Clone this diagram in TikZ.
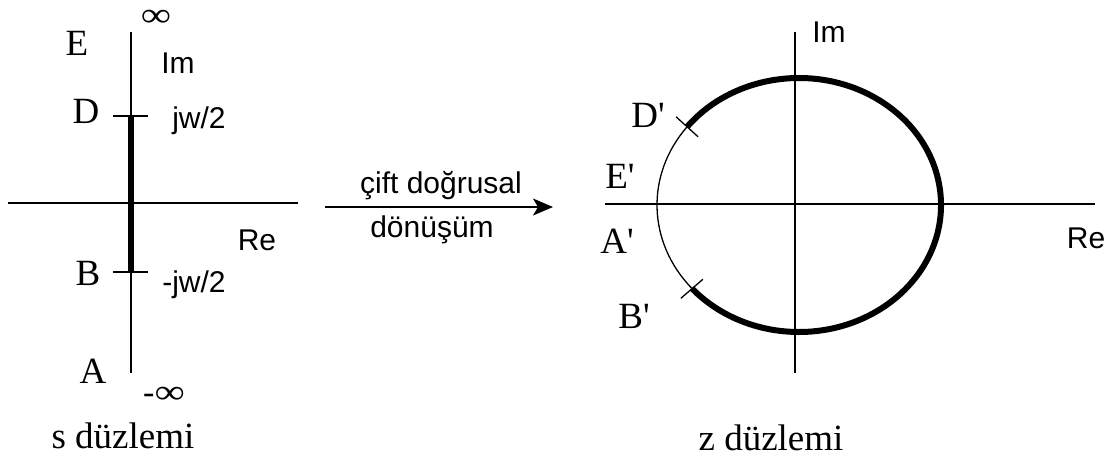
\documentclass[tikz,border=0pt]{standalone}
\usepackage{fontspec}
\setmainfont{Liberation Serif}
\newfontfamily\sansf{Liberation Sans}
\usetikzlibrary{arrows.meta}
\begin{document}
\begin{tikzpicture}[x=1pt,y=-1pt,
  ser/.style={inner sep=0pt, anchor=base, font=\fontsize{37}{37}\selectfont},
  sns/.style={inner sep=0pt, anchor=base, font=\sansf\fontsize{30}{30}\selectfont},
  infs/.style={inner sep=0pt, anchor=center, font=\fontsize{34}{34}\selectfont},
  axis/.style={line width=1.6pt},
  thick path/.style={line width=6pt},
  thin arc/.style={line width=1.3pt}]
\useasboundingbox[fill=white] (0,0) rectangle (1115,461);
% ---------- s plane ----------
\coordinate (lt) at (131,32);
\coordinate (lb) at (131,373);
\coordinate (ll) at (8,203);
\coordinate (lr) at (298,203);
\coordinate (D) at (131,116);
\coordinate (B) at (131,272);
\draw[axis] (lt) -- (lb);
\draw[axis] (ll) -- (lr);
\draw[thick path] (D) -- (B);
\draw[axis] ([xshift=-18pt]D) -- ([xshift=17pt]D);
\draw[axis] ([xshift=-18pt]B) -- ([xshift=17pt]B);
\node[infs] (infT) at (156,18) {\scalebox{1.25}[1]{∞}};
\node[ser] (E) at (77,55) {E};
\node[sns] (ImL) at (178,73) {Im};
\node[ser] (Dl) at (86,123) {D};
\node[sns] (jw) at (199,128) {jw/2};
\node[sns] (ReL) at (257,250) {Re};
\node[ser] (Bl) at (88,285) {B};
\node[sns] (mjw) at (194,292) {-jw/2};
\node[ser] (Al) at (93,383) {A};
\node[infs] (infB) at (164,395) {-\scalebox{1.25}[1]{∞}};
\node[ser] (sd) at (123,448) {s düzlemi};
% ---------- arrow ----------
\coordinate (a1) at (325,207);
\coordinate (a2) at (553,207);
\draw[axis,-{Stealth[length=20pt,width=17pt,inset=5pt]}] (a1) -- (a2);
\node[sns] (t1) at (441,193) {çift doğrusal};
\node[sns] (t2) at (432,237) {dönüşüm};
% ---------- z plane ----------
\coordinate (rt) at (795,32);
\coordinate (rb) at (795,373);
\coordinate (rl) at (605,204);
\coordinate (rr) at (1095,204);
\coordinate (c) at (799,205);
\draw[axis] (rt) -- (rb);
\draw[axis] (rl) -- (rr);
\path (c) ++(-142:142 and 127) coordinate (Dp);
\path (c) ++(139:142 and 127) coordinate (Bp);
\draw[thick path] (Dp) arc[start angle=-142, end angle=139, x radius=142, y radius=127];
\draw[thin arc] (Dp) arc[start angle=-142, end angle=-221, x radius=142, y radius=127];
\draw[thin arc] ([shift={(-11,-10)}]Dp) -- ([shift={(11,10)}]Dp);
\draw[thin arc] ([shift={(-11,10)}]Bp) -- ([shift={(11,-9)}]Bp);
\node[ser] (Dpl) at (648,127) {D\textquotesingle};
\node[ser] (Epl) at (620,188) {E\textquotesingle};
\node[ser] (Apl) at (617,253) {A\textquotesingle};
\node[ser] (Bpl) at (634,328) {B\textquotesingle};
\node[sns] (ImR) at (829,42) {Im};
\node[sns] (ReR) at (1086,248) {Re};
\node[ser] (zd) at (771,450) {z düzlemi};
\end{tikzpicture}
\end{document}
